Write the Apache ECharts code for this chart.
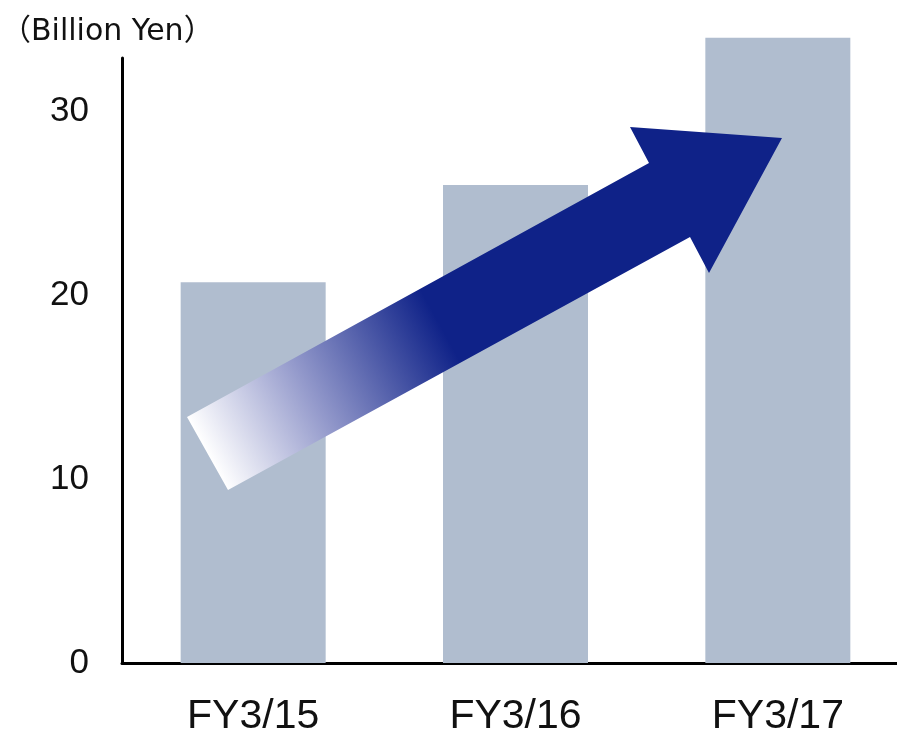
<!DOCTYPE html>
<html>
<head>
<meta charset="utf-8">
<script src="https://cdn.jsdelivr.net/npm/echarts@6/dist/echarts.min.js"></script>
<style>html,body{margin:0;padding:0;background:#fff;}#c{width:897px;height:730px;}</style>
</head>
<body>
<div id="c"></div>
<script>
const categories = ['FY3/15', 'FY3/16', 'FY3/17'];
const values = [20.7, 26.0, 34.0];
const yTicks = [0, 10, 20, 30];
const unitLabel = '（Billion Yen）';

const chart = echarts.init(document.getElementById('c'), null, {renderer: 'canvas'});
const option = {
  animation: false,
  backgroundColor: '#ffffff',
  title: {
    text: unitLabel, left: -4, top: 12,
    textStyle: {fontFamily: '"DejaVu Sans", "Noto Sans CJK JP"', fontSize: 30, fontWeight: 'normal', color: '#111'}
  },
  grid: {left: 122, top: 58, bottom: 67, right: -12, containLabel: false, outerBoundsMode: 'none'},
  xAxis: {
    type: 'category', data: categories,
    axisLine: {lineStyle: {color: '#000', width: 3}},
    axisTick: {show: false},
    axisLabel: {fontFamily: '"Liberation Sans", Arial', fontSize: 41, color: '#111', margin: 33}
  },
  yAxis: {
    type: 'value', min: 0, max: 32.9, interval: 10,
    axisLine: {show: true, lineStyle: {color: '#000', width: 3}},
    axisTick: {show: false},
    splitLine: {show: false},
    axisLabel: {fontFamily: '"Liberation Sans", Arial', fontSize: 35, color: '#111', margin: 33, showMaxLabel: false,
      formatter: v => yTicks.includes(v) ? String(v) : ''}
  },
  series: [{
    type: 'bar', data: values, barWidth: 145, clip: false,
    itemStyle: {color: '#B0BDCF'}
  }],
  graphic: [{
    type: 'polygon', z: 100,
    shape: {points: [[187,417],[649,163],[630,127],[782,138],[709,273],[690,237],[228,490]]},
    style: {
      fill: {type: 'linear', global: true, x: 207, y: 453, x2: 440, y2: 325,
        colorStops: [{offset: 0, color: '#ffffff'}, {offset: 0.45, color: '#9399cb'}, {offset: 1, color: '#0f2288'}]}
    }
  }]
};
chart.setOption(option);
</script>
</body>
</html>
